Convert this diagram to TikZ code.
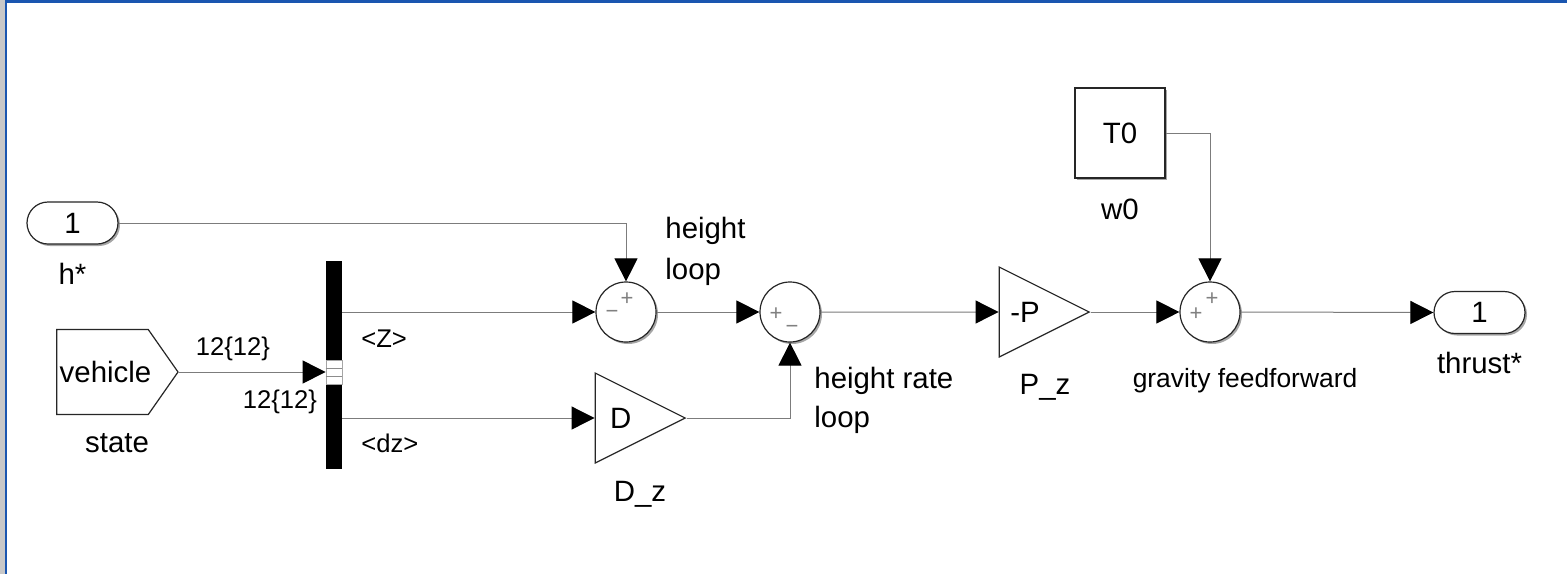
\documentclass[tikz,border=0pt]{standalone}
\usepackage{fontspec}
\setmainfont{Liberation Sans}
\usepackage{tikz}
\usetikzlibrary{positioning,arrows.meta,shapes.geometric,shapes.misc,shapes.symbols,shadows}
\definecolor{frameblue}{HTML}{1A56B0}
\definecolor{framegray}{HTML}{C8C8C8}
\definecolor{wiregray}{HTML}{7C7C7C}

\begin{document}
\begin{tikzpicture}[x=0.5pt, y=-0.5pt, font=\fontsize{14.7}{17}\selectfont,
  softshadow/.style={drop shadow={shadow xshift=1pt, shadow yshift=-1pt, fill=black, opacity=0.35}},
  block/.style={draw=black!85, line width=0.6pt, fill=white, inner sep=0pt},
  port/.style={block, rounded rectangle, minimum width=45.5pt, minimum height=21pt, softshadow},
  sumblock/.style={block, circle, minimum size=30pt, softshadow},
  gainblock/.style={block, isosceles triangle, isosceles triangle stretches, isosceles triangle apex angle=53,
    minimum height=45pt, minimum width=45pt, anchor=apex},
  wire/.style={wiregray, line width=0.5pt, -{Triangle[length=11.5pt, width=11.5pt, color=black]}},
  tag/.style={inner sep=0pt},
  smalltag/.style={inner sep=0pt, font=\fontsize{12.8}{15}\selectfont},
  sign/.style={inner sep=0pt, text=black!50, font=\fontsize{11}{11}\selectfont}]
  \useasboundingbox (0,0) rectangle (1567,574);
  \fill[white] (0,0) rectangle (1567,574);
  \fill[framegray] (0,0) rectangle (5,574);
  \fill[frameblue] (5,0) rectangle (7,574);
  \fill[frameblue] (5,0) rectangle (1567,3);

  \node[port] (hin) at (72.5,223) {1};
  \node[tag, below=9pt of hin] (hlabel) {h*};
  \node[block, signal, signal to=east, signal pointer angle=110, minimum width=60.5pt, minimum height=42.5pt] (state) at (102.5,372) {\hspace*{1.5pt}vehicle\hspace*{-1.5pt}};
  \node[tag] (statelabel) at (117,443) {state};
  \node[fill=black, minimum width=8pt, minimum height=104pt, inner sep=0pt] (bus) at (334,365) {};
  \node[draw=black!35, line width=0.4pt, fill=white, minimum width=8pt, minimum height=12pt, inner sep=0pt] (sel) at (334,372) {};
  \draw[black!45, line width=0.4pt] ([yshift=2pt]sel.west) -- ([yshift=2pt]sel.east);
  \draw[black!45, line width=0.4pt] ([yshift=-2pt]sel.west) -- ([yshift=-2pt]sel.east);
  \node[smalltag] (sizeout) at (233,349) {12\{12\}};
  \node[smalltag] (sizein) at (280,402) {12\{12\}};
  \node[smalltag, anchor=west] (zlabel) at (361,339) {<Z>};
  \node[smalltag, anchor=west] (dzlabel) at (361,443) {<dz>};

  \node[sumblock] (sumh) at (626,312) {};
  \node[sign] (sumha) at (627,299) {+};
  \node[sign] (sumhb) at (612,314) {−};
  \node[tag, anchor=north west, align=left] (hloop) at (665,217) {height\\[3.5pt]loop};
  \node[sumblock] (sumr) at (790,312) {};
  \node[sign] (sumra) at (776,314) {+};
  \node[sign] (sumrb) at (792,329) {−};
  \node[tag, anchor=north west, align=left] (rloop) at (814,367) {height rate\\[2.5pt]loop};
  \node[gainblock] (dgain) at (686.5,418) {D};
  \node[tag] (dlabel) at (640,494) {D\_z};
  \node[gainblock] (pgain) at (1090.5,312) {-P\hspace*{2pt}};
  \node[tag] (plabel) at (1045,387) {P\_z};
  \node[block, minimum size=45pt, softshadow] (wzero) at (1120,133) {T0};
  \node[tag, below=10pt of wzero] (wlabel) {w0};
  \node[sumblock] (sumg) at (1210,312) {};
  \node[sign] (sumga) at (1212,299) {+};
  \node[sign] (sumgb) at (1196,314) {+};
  \node[smalltag, font=\fontsize{13.2}{15}\selectfont] (glabel) at (1245,381) {gravity feedforward};
  \node[port] (thrust) at (1479.5,312.5) {1};
  \node[tag, below=9pt of thrust] (tlabel) {thrust*};

  \draw[wire] (hin.east) -| (sumh.north);
  \draw[wire] (state.east) -- (sel.west);
  \draw[wire] (bus.east |- sumh.west) -- (sumh.west);
  \draw[wire] (bus.east |- dgain.west) -- (dgain.west);
  \draw[wire] (sumh.east) -- (sumr.west);
  \draw[wire] (dgain.apex) -| (sumr.south);
  \draw[wire] (sumr.east) -- (pgain.west);
  \draw[wire] (pgain.apex) -- (sumg.west);
  \draw[wire] (wzero.east) -| (sumg.north);
  \draw[wire] (sumg.east) -- (thrust.west);
\end{tikzpicture}
\end{document}
